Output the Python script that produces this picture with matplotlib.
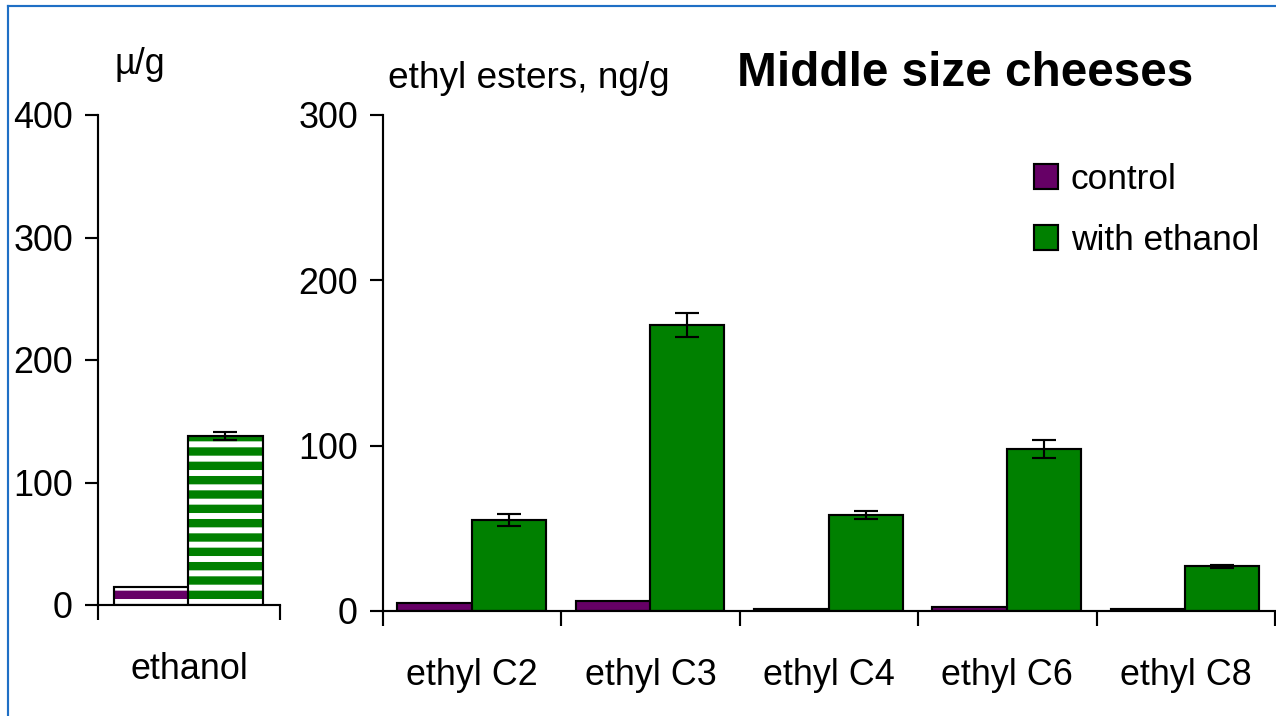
import matplotlib
matplotlib.use("Agg")
import matplotlib.pyplot as plt
from matplotlib.lines import Line2D
import numpy as np

plt.rcParams['font.family'] = ['Liberation Sans', 'DejaVu Sans']
plt.rcParams['hatch.linewidth'] = 7.0

# ethanol panel (µg/g)
eth_labels = ['ethanol']
eth_control = [15]
eth_treated = [138]
eth_treated_err = [3]

# ethyl esters panel (ng/g)
esters = ['ethyl C2', 'ethyl C3', 'ethyl C4', 'ethyl C6', 'ethyl C8']
control = [5, 6, 1, 2.5, 1]
with_ethanol = [55, 173, 58, 98, 27]
with_ethanol_err = [3.5, 7, 2.5, 5.5, 1]

purple = '#660066'
green = '#008000'

dpi = 86
fig = plt.figure(figsize=(1276 / dpi, 716 / dpi), dpi=dpi)
W, H = 1276, 716


def px_axes(x0, y_top, x1, y_bot):
    return fig.add_axes([x0 / W, 1 - y_bot / H, (x1 - x0) / W, (y_bot - y_top) / H])


def style(ax, n, ymax, step):
    ax.set_xlim(-0.5, n - 0.5)
    ax.set_ylim(0, ymax)
    ax.set_yticks(np.arange(0, ymax + 1, step))
    ax.set_xticks(np.arange(n + 1) - 0.5)
    ax.set_xticklabels([])
    ax.set_xticks(np.arange(n), minor=True)
    for s in ['top', 'right']:
        ax.spines[s].set_visible(False)
    for s in ['left', 'bottom']:
        ax.spines[s].set_linewidth(1.8)
    ax.tick_params(axis='y', direction='out', length=11, width=1.8, pad=10, labelsize=30)
    ax.tick_params(axis='x', which='major', direction='out', length=12.5, width=1.8)
    ax.tick_params(axis='x', which='minor', length=0, pad=39, labelsize=30)


bw = 0.415
lw = 1.8

# left panel
ax1 = px_axes(98, 115, 280, 605)
x1 = np.arange(len(eth_labels))
ax1.bar(x1 - 0.205, eth_control, bw, color='white', edgecolor=purple, hatch='-', linewidth=0)
ax1.bar(x1 - 0.205, eth_control, bw, fill=False, edgecolor='black', linewidth=lw)
ax1.bar(x1 + 0.2, eth_treated, bw, color='white', edgecolor=green, hatch='-', linewidth=0)
ax1.bar(x1 + 0.2, eth_treated, bw, fill=False, edgecolor='black', linewidth=lw)
ax1.errorbar(x1 + 0.2, eth_treated, yerr=eth_treated_err, fmt='none', ecolor='black',
             elinewidth=1.8, capsize=10, capthick=1.8)
style(ax1, len(eth_labels), 400, 100)
ax1.set_xticklabels(eth_labels, minor=True)

# right panel
ax2 = px_axes(383, 115, 1275, 611)
x2 = np.arange(len(esters))
b1 = ax2.bar(x2 - 0.21, control, 0.42, color=purple, edgecolor='black', linewidth=lw, label='control')
b2 = ax2.bar(x2 + 0.205, with_ethanol, 0.415, color=green, edgecolor='black', linewidth=lw,
             label='with ethanol')
ax2.errorbar(x2 + 0.205, with_ethanol, yerr=with_ethanol_err, fmt='none', ecolor='black',
             elinewidth=1.8, capsize=10, capthick=1.8)
style(ax2, len(esters), 300, 100)
ax2.set_xticklabels(esters, minor=True)

leg = ax2.legend(handles=[b1, b2], loc='upper left', bbox_to_anchor=(1002 / W, 1 - 131 / H),
                 bbox_transform=fig.transFigure, frameon=False, fontsize=29.5,
                 handlelength=0.7, handleheight=0.7, handletextpad=0.35, labelspacing=0.8)

fig.text(140 / W, 1 - 65 / H, 'µ/g', fontsize=30, ha='center', va='center')
fig.text(529 / W, 1 - 78 / H, 'ethyl esters, ng/g', fontsize=31, ha='center', va='center')
fig.text(965 / W, 1 - 73 / H, 'Middle size cheeses', fontsize=40, fontweight='bold',
         ha='center', va='center')

# blue frame
blue = '#1f6fc5'
fig.add_artist(Line2D([8 / W, 8 / W], [0, 1 - 6 / H], color=blue, linewidth=1.8,
                      transform=fig.transFigure))
fig.add_artist(Line2D([8 / W, 1], [1 - 6 / H, 1 - 6 / H], color=blue, linewidth=1.8,
                      transform=fig.transFigure))

fig.savefig('out.png', dpi=dpi)
